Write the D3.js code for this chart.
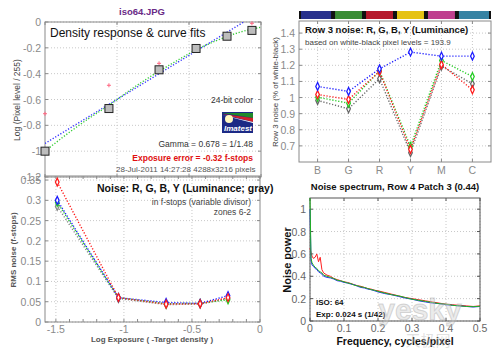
<!DOCTYPE html>
<html>
<head>
<meta charset="utf-8">
<script src="https://cdn.jsdelivr.net/npm/d3@7"></script>
<style>
  body { margin: 0; background: #fff; }
  svg { font-family: "Liberation Sans", Arial, sans-serif; }
</style>
</head>
<body>
<div id="chart"></div>
<script>
// ---- data ----
// density response (top left)
const densityX = [-1.5, -1.056, -0.708, -0.451, -0.236, -0.063];
const densityY = [-1.0, -0.67, -0.37, -0.205, -0.11, -0.065];
const pinkX = [-1.5, -1.056, -0.708, -0.063];
const pinkY = [-0.71, -0.49, -0.32, -0.01];
const gammaFitX = [-1.5, -0.12];
const gammaFitY = [-0.94, 0.0];
const curveFitX = [-1.5, -1.35, -1.2, -1.05, -0.9, -0.75, -0.6, -0.45, -0.3, -0.15, 0];
const curveFitY = [-1.0, -0.87, -0.75, -0.64, -0.52, -0.41, -0.31, -0.215, -0.14, -0.08, -0.04];

// row 3 noise (top right)
const patches = ["B", "G", "R", "Y", "M", "C"];
const patchColors = ["#28318c", "#3a8c35", "#b51a2c", "#e6c214", "#bf3f8e", "#3783a3"];
const row3Red = [1.019, 0.988, 1.162, 0.678, 1.205, 1.048];
const row3Green = [1.002, 0.965, 1.165, 0.696, 1.23, 1.13];
const row3Blue = [1.069, 1.038, 1.178, 1.282, 1.257, 1.257];
const row3Gray = [0.982, 0.93, 1.117, 0.658, 1.195, 1.085];

// RMS noise in f-stops (bottom left)
const exposureX = [-1.49, -1.04, -0.69, -0.44, -0.235];
const rmsRed = [0.345, 0.06, 0.044, 0.045, 0.06];
const rmsGreen = [0.295, 0.06, 0.045, 0.046, 0.055];
const rmsBlue = [0.30, 0.06, 0.048, 0.046, 0.065];
const rmsGray = [0.285, 0.058, 0.043, 0.044, 0.058];

// noise spectrum (bottom right)
const freq = [0, 0.003, 0.006, 0.01, 0.015, 0.02, 0.025, 0.03, 0.035, 0.04, 0.05, 0.06, 0.07, 0.08, 0.09,
  0.1, 0.11, 0.12, 0.13, 0.14, 0.15, 0.16, 0.17, 0.18, 0.19, 0.2, 0.22, 0.24, 0.26, 0.28, 0.3,
  0.32, 0.34, 0.36, 0.38, 0.4, 0.42, 0.44, 0.46, 0.48, 0.5];
const specRed = [0.65, 0.61, 0.58, 0.56, 0.57, 0.6, 0.53, 0.57, 0.46, 0.43, 0.41, 0.4, 0.38, 0.37, 0.36,
  0.35, 0.345, 0.335, 0.325, 0.315, 0.31, 0.3, 0.29, 0.285, 0.275, 0.27, 0.255, 0.24, 0.225, 0.21, 0.2,
  0.19, 0.18, 0.17, 0.16, 0.15, 0.145, 0.14, 0.135, 0.13, 0.135];
const specGreen = [1.1, 0.56, 0.52, 0.5, 0.48, 0.47, 0.45, 0.44, 0.43, 0.41, 0.4, 0.39, 0.38, 0.365, 0.36,
  0.35, 0.34, 0.335, 0.32, 0.315, 0.305, 0.3, 0.29, 0.28, 0.275, 0.265, 0.25, 0.235, 0.225, 0.21, 0.195,
  0.185, 0.175, 0.165, 0.155, 0.15, 0.14, 0.135, 0.13, 0.128, 0.132];
const specBlue = [1.0, 0.54, 0.5, 0.49, 0.47, 0.46, 0.44, 0.43, 0.42, 0.4, 0.39, 0.385, 0.375, 0.36, 0.355,
  0.345, 0.34, 0.33, 0.325, 0.31, 0.3, 0.295, 0.285, 0.28, 0.27, 0.26, 0.245, 0.235, 0.22, 0.205, 0.195,
  0.18, 0.17, 0.16, 0.155, 0.145, 0.14, 0.135, 0.13, 0.125, 0.13];

const width = 500;
const height = 353;

const svg = d3.select("#chart")
  .append("svg")
  .attr("width", width)
  .attr("height", height);

const dotted = "1.2,1.8";
const gridColor = "#c8c8c8";
const frameColor = "#8a8a8a";
const tickText = "#8a8a8a";

// draws a matlab style box with dotted grid and inward ticks
function box(x, y, xTicks, yTicks, opts) {
  const g = svg.append("g");
  const [x0, x1] = x.range();
  const [y0, y1] = y.range();
  g.selectAll(".gx").data(opts.gridX || xTicks).join("line")
    .attr("x1", d => x(d)).attr("x2", d => x(d))
    .attr("y1", y0).attr("y2", y1)
    .attr("stroke", gridColor).attr("stroke-dasharray", "1,2");
  g.selectAll(".gy").data(opts.gridY || yTicks).join("line")
    .attr("y1", d => y(d)).attr("y2", d => y(d))
    .attr("x1", x0).attr("x2", x1)
    .attr("stroke", gridColor).attr("stroke-dasharray", "1,2");
  // inward ticks on all four sides
  g.selectAll(".tx").data(opts.minorX || xTicks).join("path")
    .attr("d", d => `M${x(d)},${y0}v-3M${x(d)},${y1}v3`)
    .attr("stroke", opts.frame || frameColor);
  g.selectAll(".ty").data(yTicks).join("path")
    .attr("d", d => `M${x0},${y(d)}h3M${x1},${y(d)}h-3`)
    .attr("stroke", opts.frame || frameColor);
  g.append("rect")
    .attr("x", x0).attr("y", y1)
    .attr("width", x1 - x0).attr("height", y0 - y1)
    .attr("fill", "none").attr("stroke", opts.frame || frameColor);
  // labels
  g.selectAll(".ly").data(yTicks).join("text")
    .attr("class", "ly")
    .attr("x", x0 - 4).attr("y", d => y(d) + 4)
    .attr("text-anchor", "end")
    .attr("font-size", 10.5).attr("fill", opts.labelColor || tickText)
    .text(opts.yFormat || (d => d));
  if (opts.showX !== false) {
    g.selectAll(".lx").data(xTicks).join("text")
      .attr("class", "lx")
      .attr("x", d => x(d)).attr("y", y0 + 11)
      .attr("text-anchor", "middle")
      .attr("font-size", 10.5).attr("fill", opts.labelColor || tickText)
      .text(opts.xFormat || (d => d));
  }
  return g;
}

const diamond = d3.symbol(d3.symbolDiamond).size(18);

function series(g, xs, ys, xScale, yScale, color, markers) {
  const pts = xs.map((d, i) => [xScale(d), yScale(ys[i])]);
  g.append("path")
    .attr("d", d3.line()(pts))
    .attr("fill", "none").attr("stroke", color)
    .attr("stroke-width", 1.4).attr("stroke-dasharray", dotted);
  if (markers) {
    g.selectAll(null).data(pts).join("path")
      .attr("transform", d => `translate(${d[0]},${d[1]}) scale(0.8,1)`)
      .attr("d", diamond)
      .attr("fill", "white").attr("stroke", color).attr("stroke-width", 1.5);
  }
}

// ---------- top left: density response ----------
const xTL = d3.scaleLinear().domain([-1.5, 0]).range([45, 261]);
const yTL = d3.scaleLinear().domain([-1.2, 0]).range([177, 22]);
const tl = box(xTL, yTL, [-1.5, -1, -0.5, 0], [-1.2, -1, -0.8, -0.6, -0.4, -0.2, 0], {
  showX: false, gridX: [-1, -0.5]
});
tl.append("clipPath").attr("id", "clipTL").append("rect")
  .attr("x", 45).attr("y", 22).attr("width", 216).attr("height", 155);
const tlPlot = tl.append("g").attr("clip-path", "url(#clipTL)");
series(tlPlot, gammaFitX, gammaFitY, xTL, yTL, "#3333ff");
// smooth curve fit
tlPlot.append("path")
  .attr("d", d3.line().curve(d3.curveMonotoneX).x(d => xTL(d)).y((d, i) => yTL(curveFitY[i]))(curveFitX))
  .attr("fill", "none").attr("stroke", "#33cc33")
  .attr("stroke-width", 1.4).attr("stroke-dasharray", dotted);
tl.selectAll(".pink").data(pinkX).join("path")
  .attr("d", (d, i) => `M${xTL(d) - 2},${yTL(pinkY[i])}h4M${xTL(d)},${yTL(pinkY[i]) - 2}v4`)
  .attr("stroke", "#ff6680").attr("stroke-width", 1);
tl.selectAll(".sq").data(densityX).join("rect")
  .attr("x", d => xTL(d) - 4)
  .attr("y", (d, i) => yTL(densityY[i]) - 4)
  .attr("width", 8).attr("height", 8)
  .attr("fill", "#bdbdbd").attr("stroke", "#222").attr("stroke-width", 1);

svg.append("text").attr("x", 142).attr("y", 15)
  .attr("text-anchor", "middle").attr("font-size", 9.5).attr("font-weight", "bold")
  .attr("fill", "#6a2a86").text("iso64.JPG");
svg.append("text").attr("x", 50).attr("y", 37)
  .attr("font-size", 12).attr("fill", "#111").text("Density response & curve fits");
svg.append("text").attr("transform", "translate(20,100) rotate(-90)")
  .attr("text-anchor", "middle").attr("font-size", 8.5).attr("fill", "#444")
  .text("Log (Pixel level / 255)");
svg.append("text").attr("x", 253).attr("y", 103)
  .attr("text-anchor", "end").attr("font-size", 8.5).attr("fill", "#333").text("24-bit color");

// imatest logo
const logo = svg.append("g").attr("transform", "translate(222,112)");
logo.append("rect").attr("width", 31).attr("height", 21).attr("fill", "#1c2a86");
logo.append("path").attr("d", "M0,1 L31,1 L31,6 Z").attr("fill", "#1f8a2a");
logo.append("path").attr("d", "M0,2 L31,6 L31,10 Z").attr("fill", "#d11f2a");
logo.append("path").attr("d", "M0,3 L31,10 L31,11 Z").attr("fill", "#ffffff");
logo.append("circle").attr("cx", 7).attr("cy", 7).attr("r", 4).attr("fill", "#fff8c0");
logo.append("text").attr("x", 16).attr("y", 19).attr("text-anchor", "middle")
  .attr("font-size", 8).attr("font-style", "italic").attr("font-weight", "bold")
  .attr("fill", "#fff").text("Imatest");

svg.append("text").attr("x", 253).attr("y", 147)
  .attr("text-anchor", "end").attr("font-size", 8.5).attr("fill", "#333").text("Gamma = 0.678 = 1/1.48");
svg.append("text").attr("x", 253).attr("y", 161)
  .attr("text-anchor", "end").attr("font-size", 8.5).attr("font-weight", "bold")
  .attr("fill", "#e01010").text("Exposure error = -0.32 f-stops");
svg.append("text").attr("x", 116).attr("y", 172)
  .attr("font-size", 8).attr("fill", "#555").text("28-Jul-2011 14:27:28   4288x3216 pixels");

// ---------- top right: row 3 noise ----------
const xTR = d3.scaleLinear().domain([0.4, 6.6]).range([299, 491]);
const yTR = d3.scaleLinear().domain([0.6, 1.475]).range([162, 21]);
const idx = patches.map((d, i) => i + 1);
const tr = box(xTR, yTR, idx, [0.7, 0.8, 0.9, 1, 1.1, 1.2, 1.3, 1.4], { xFormat: d => patches[d - 1] });
tr.selectAll(".lx").attr("y", 174);
// color strip above the plot
const stripEdges = [0.4, 1.5, 2.5, 3.5, 4.5, 5.5, 6.6];
svg.append("rect").attr("x", 299).attr("y", 11).attr("width", 192).attr("height", 8).attr("fill", "#111");
svg.selectAll(".strip").data(patchColors).join("rect")
  .attr("x", (d, i) => xTR(stripEdges[i]) + 2)
  .attr("y", 11)
  .attr("width", (d, i) => xTR(stripEdges[i + 1]) - xTR(stripEdges[i]) - 4)
  .attr("height", 8)
  .attr("fill", d => d);
series(tr, idx, row3Gray, xTR, yTR, "#666", true);
series(tr, idx, row3Green, xTR, yTR, "#22cc22", true);
series(tr, idx, row3Red, xTR, yTR, "#ff1a1a", true);
series(tr, idx, row3Blue, xTR, yTR, "#1a1aff", true);
svg.append("text").attr("x", 305).attr("y", 33)
  .attr("font-size", 9.5).attr("font-weight", "bold").attr("fill", "#111")
  .text("Row 3 noise: R, G, B, Y (Luminance)");
svg.append("text").attr("x", 305).attr("y", 45)
  .attr("font-size", 8).attr("fill", "#444")
  .text("based on white-black pixel levels = 193.9");
svg.append("text").attr("transform", "translate(278,92) rotate(-90)")
  .attr("text-anchor", "middle").attr("font-size", 8).attr("fill", "#444")
  .text("Row 3 noise (% of white-black)");

// ---------- bottom left: RMS noise ----------
const xBL = d3.scaleLinear().domain([-1.58, 0]).range([45, 260]);
const yBL = d3.scaleLinear().domain([0, 0.36]).range([322, 176]);
const bl = box(xBL, yBL, [-1.5, -1, -0.5, 0], [0, 0.05, 0.1, 0.15, 0.2, 0.25, 0.3, 0.35], {
  minorX: d3.range(-15, 1).map(d => d / 10), gridX: [-1.5, -1, -0.5]
});
series(bl, exposureX, rmsGray, xBL, yBL, "#888", true);
series(bl, exposureX, rmsGreen, xBL, yBL, "#22cc22", true);
series(bl, exposureX, rmsBlue, xBL, yBL, "#1a1aff", true);
series(bl, exposureX, rmsRed, xBL, yBL, "#ff1a1a", true);
svg.append("text").attr("x", 97).attr("y", 192)
  .attr("font-size", 10.5).attr("font-weight", "bold").attr("fill", "#111")
  .text("Noise: R, G, B, Y (Luminance; gray)");
svg.append("text").attr("x", 251).attr("y", 205)
  .attr("text-anchor", "end").attr("font-size", 8.5).attr("fill", "#444")
  .text("in f-stops (variable divisor)");
svg.append("text").attr("x", 251).attr("y", 215)
  .attr("text-anchor", "end").attr("font-size", 8.5).attr("fill", "#444").text("zones 6-2");
svg.append("text").attr("transform", "translate(16,250) rotate(-90)")
  .attr("text-anchor", "middle").attr("font-size", 8).attr("font-weight", "bold").attr("fill", "#555")
  .text("RMS noise (f-stops)");
svg.append("text").attr("x", 152).attr("y", 342)
  .attr("text-anchor", "middle").attr("font-size", 8).attr("font-weight", "bold").attr("fill", "#555")
  .text("Log Exposure ( -Target density )");

// ---------- bottom right: noise spectrum ----------
const xBR = d3.scaleLinear().domain([0, 0.5]).range([310, 480]);
const yBR = d3.scaleLinear().domain([0, 1.1]).range([321, 198]);
const br = box(xBR, yBR, [0, 0.1, 0.2, 0.3, 0.4, 0.5], [0, 0.2, 0.4, 0.6, 0.8, 1], {
  frame: "#555", labelColor: "#666"
});
[[specRed, "#ff2020"], [specBlue, "#3030ff"], [specGreen, "#20b020"]].forEach(([vals, c]) => {
  br.append("path")
    .attr("d", d3.line().x((d, i) => xBR(freq[i])).y(d => yBR(d))(vals))
    .attr("fill", "none").attr("stroke", c).attr("stroke-width", 1);
});
svg.append("text").attr("x", 395).attr("y", 190)
  .attr("text-anchor", "middle").attr("font-size", 9.5).attr("font-weight", "bold").attr("fill", "#111")
  .text("Noise spectrum, Row 4 Patch 3 (0.44)");
svg.append("text").attr("transform", "translate(291,260) rotate(-90)")
  .attr("text-anchor", "middle").attr("font-size", 11).attr("font-weight", "bold").attr("fill", "#111")
  .text("Noise power");
svg.append("text").attr("x", 395).attr("y", 345)
  .attr("text-anchor", "middle").attr("font-size", 10.5).attr("font-weight", "bold").attr("fill", "#111")
  .text("Frequency, cycles/pixel");
svg.append("text").attr("x", 316).attr("y", 305)
  .attr("font-size", 8).attr("font-weight", "bold").attr("fill", "#111").text("ISO:   64");
svg.append("text").attr("x", 316).attr("y", 317)
  .attr("font-size", 8).attr("font-weight", "bold").attr("fill", "#111").text("Exp:   0.024 s  (1/42)");

// watermark
svg.append("text").attr("x", 420).attr("y", 320)
  .attr("text-anchor", "middle").attr("font-size", 30).attr("font-weight", "bold")
  .attr("fill", "#ccc").attr("fill-opacity", 0.4).attr("stroke", "#aaa").attr("stroke-opacity", 0.45)
  .text("yesky");
svg.append("text").attr("x", 428).attr("y", 346)
  .attr("text-anchor", "middle").attr("font-size", 15)
  .attr("font-family", "Noto Sans CJK SC")
  .attr("fill", "#bbb").attr("fill-opacity", 0.45).text("天极网");
</script>
</body>
</html>
